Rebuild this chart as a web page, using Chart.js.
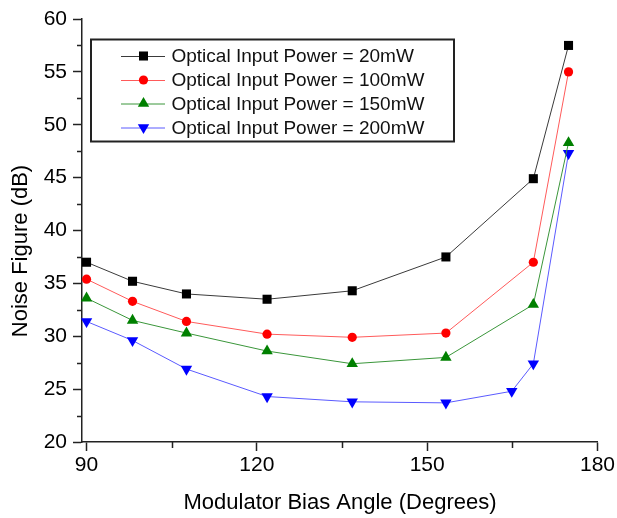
<!DOCTYPE html>
<html>
<head>
<meta charset="utf-8">
<script src="https://cdn.jsdelivr.net/npm/chart.js@4/dist/chart.umd.min.js"></script>
<style>
  html, body { margin: 0; padding: 0; background: #fff; }
  #wrap { width: 617px; height: 518px; }
</style>
</head>
<body>
<div id="wrap"><canvas id="canvas" width="617" height="518"></canvas></div>
<script>
// data
let angles = [90, 98.1, 107.6, 121.8, 136.8, 153.3, 168.7, 174.9];
let anglesBlue = [90, 98.1, 107.6, 121.8, 136.8, 153.3, 164.9, 168.7, 174.9];
let nf20 = [37.0, 35.2, 34.0, 33.5, 34.3, 37.5, 44.9, 57.5];
let nf100 = [35.4, 33.3, 31.4, 30.2, 29.9, 30.3, 37.0, 55.0];
let nf150 = [33.6, 31.5, 30.3, 28.6, 27.4, 28.0, 33.0, 48.3];
let nf200 = [31.4, 29.6, 26.9, 24.3, 23.8, 23.7, 24.8, 27.4, 47.3];
let labels = ["Optical Input Power = 20mW", "Optical Input Power = 100mW",
    "Optical Input Power = 150mW", "Optical Input Power = 200mW"];
let xTicks = [90, 120, 150, 180];
let xMinor = [105, 135, 165];
let yTicks = [20, 25, 30, 35, 40, 45, 50, 55, 60];
let yMinor = [22.5, 27.5, 32.5, 37.5, 42.5, 47.5, 52.5, 57.5];

let font = "'Liberation Sans', Arial, sans-serif";

function pts(xs, ys) {
    return xs.map((x, i) => ({ x: x, y: ys[i] }));
}

function series(label, xs, ys, line, fill, style, radius, rotation) {
    return {
        label: label,
        data: pts(xs, ys),
        borderColor: line,
        borderWidth: 1,
        pointBackgroundColor: fill,
        pointBorderColor: fill,
        pointBorderWidth: 0,
        pointStyle: style,
        pointRadius: radius,
        pointRotation: rotation,
        pointHoverRadius: radius,
        tension: 0,
        clip: false
    };
}

// legend box + axis titles + minor ticks
let extras = {
    id: "extras",
    afterDraw(chart) {
        let ctx = chart.ctx;
        let x = chart.scales.x, y = chart.scales.y;
        ctx.save();
        ctx.strokeStyle = "#222";
        ctx.lineWidth = 1.5;
        ctx.beginPath();
        yMinor.forEach(v => {
            let py = Math.round(y.getPixelForValue(v)) + 0.5;
            ctx.moveTo(x.left - 5, py);
            ctx.lineTo(x.left, py);
        });
        xMinor.forEach(v => {
            let px = Math.round(x.getPixelForValue(v)) + 0.5;
            ctx.moveTo(px, y.bottom);
            ctx.lineTo(px, y.bottom + 6);
        });
        ctx.stroke();

        // axis titles
        ctx.fillStyle = "#000";
        ctx.font = "22px " + font;
        ctx.textAlign = "center";
        ctx.textBaseline = "middle";
        ctx.fillText("Modulator Bias Angle (Degrees)", 340, 503);
        ctx.save();
        ctx.translate(21, 251);
        ctx.rotate(-Math.PI / 2);
        ctx.fillText("Noise Figure (dB)", 0, 0);
        ctx.restore();

        // legend
        ctx.strokeStyle = "#222";
        ctx.lineWidth = 2;
        ctx.strokeRect(91, 39.5, 363, 102);
        let rows = [56, 80, 103.5, 127.5];
        chart.data.datasets.forEach((ds, i) => {
            let ry = rows[i];
            ctx.strokeStyle = ds.borderColor;
            ctx.lineWidth = 1;
            ctx.beginPath();
            ctx.moveTo(121, ry + 0.5);
            ctx.lineTo(165, ry + 0.5);
            ctx.stroke();
            ctx.fillStyle = ds.pointBackgroundColor;
            ctx.strokeStyle = ds.pointBorderColor;
            Chart.helpers.drawPoint(ctx, {
                pointStyle: ds.pointStyle,
                rotation: ds.pointRotation,
                radius: ds.pointRadius,
                borderWidth: 0
            }, 143.5, ry);
            ctx.fillStyle = "#111";
            ctx.font = "19px " + font;
            ctx.textAlign = "left";
            ctx.textBaseline = "middle";
            ctx.fillText(ds.label, 171.5, ry + 1);
        });
        ctx.restore();
    }
};

let chart = new Chart(document.getElementById("canvas").getContext("2d"), {
    type: "line",
    data: {
        datasets: [
            series(labels[0], angles, nf20, "#3a3a3a", "#000000", "rect", 6.4, 0),
            series(labels[1], angles, nf100, "#ff5a5a", "#ff0000", "circle", 4.6, 0),
            series(labels[2], angles, nf150, "#3a963a", "#008000", "triangle", 6.6, 0),
            series(labels[3], anglesBlue, nf200, "#5a5aff", "#0000ff", "triangle", 6.6, 180)
        ]
    },
    options: {
        responsive: false,
        animation: false,
        layout: { padding: { left: 0, top: 19, right: 19, bottom: 0 } },
        plugins: {
            legend: { display: false },
            tooltip: { enabled: false }
        },
        scales: {
            x: {
                type: "linear",
                min: 89.2,
                max: 180,
                afterBuildTicks: s => { s.ticks = xTicks.map(v => ({ value: v })); },
                afterFit: s => { s.height = 76; },
                grid: {
                    drawOnChartArea: false,
                    drawTicks: true,
                    tickLength: 9,
                    tickColor: "#222",
                    tickWidth: 1.5
                },
                border: { display: true, color: "#222", width: 1.5 },
                ticks: {
                    color: "#000",
                    font: { family: font, size: 21 },
                    padding: 2,
                    maxRotation: 0
                }
            },
            y: {
                type: "linear",
                min: 20,
                max: 60,
                afterBuildTicks: s => { s.ticks = yTicks.map(v => ({ value: v })); },
                afterFit: s => { s.width = 82; },
                grid: {
                    drawOnChartArea: false,
                    drawTicks: true,
                    tickLength: 9,
                    tickColor: "#222",
                    tickWidth: 1.5
                },
                border: { display: true, color: "#222", width: 1.5 },
                ticks: {
                    color: "#000",
                    font: { family: font, size: 21 },
                    padding: 6
                }
            }
        }
    },
    plugins: [extras]
});
</script>
</body>
</html>
